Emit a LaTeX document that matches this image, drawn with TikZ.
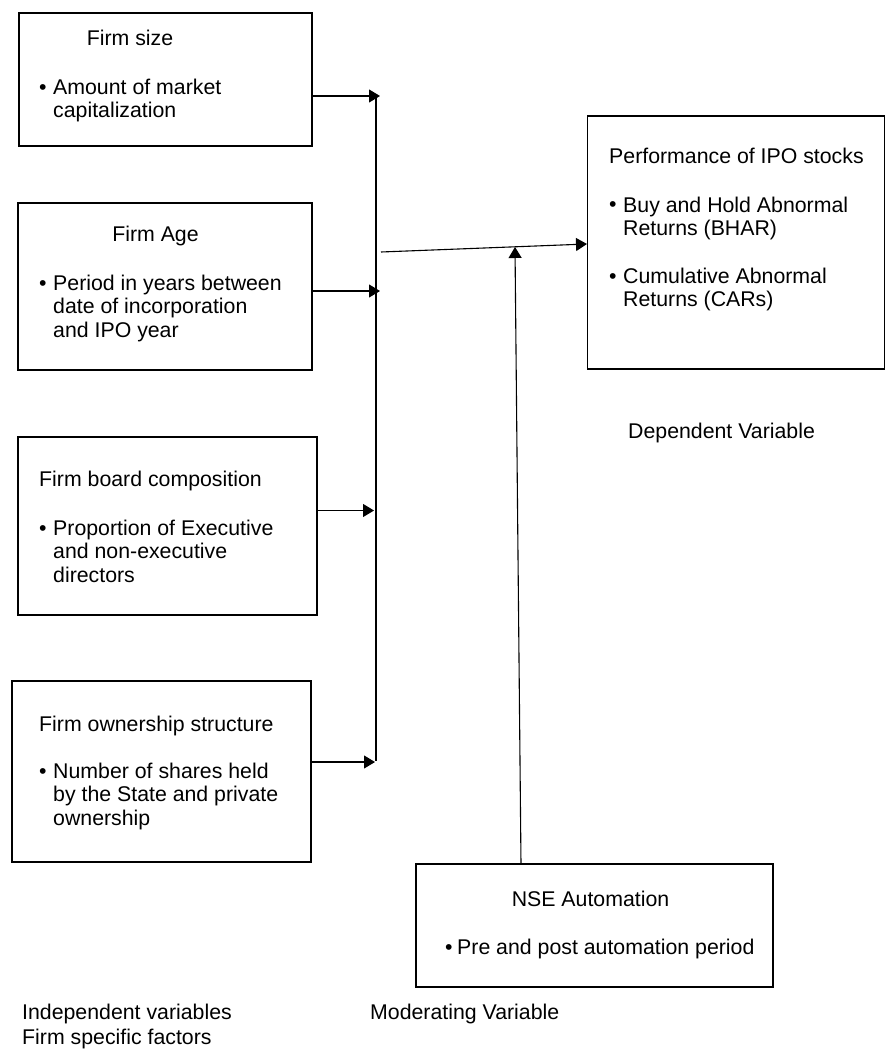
\documentclass[tikz,border=0pt]{standalone}
\usepackage{fontspec}
\setmainfont{Liberation Sans}
\usetikzlibrary{arrows.meta}
\newcommand{\fsz}{\fontsize{21.3}{23.5}\selectfont}
\begin{document}
\begin{tikzpicture}[x=1pt,y=-1pt,
  box/.style={draw=black, line width=1.2pt, inner sep=0pt, fill=none},
  txt/.style={inner sep=0pt, font=\fsz, align=left, text=black},
  conn/.style={draw=black, line width=1.1pt},
  arr/.style={conn, -{Triangle[length=11pt,width=13pt]}}]
\useasboundingbox (0,0) rectangle (886,1055);
\fill[white] (0,0) rectangle (886,1055);
% boxes
\node[box, minimum width=293pt, minimum height=133pt] (b1) at (165.5,79.5) {};
\node[box, minimum width=294pt, minimum height=167pt] (b2) at (165,286.5) {};
\node[box, minimum width=299pt, minimum height=178pt] (b3) at (167.5,526) {};
\node[box, minimum width=299pt, minimum height=181pt] (b4) at (161.5,771.5) {};
\node[box, minimum width=297pt, minimum height=253pt] (perf) at (736,242.5) {};
\node[box, minimum width=357pt, minimum height=123pt] (nse) at (594.5,925.5) {};
% box 1
\node[txt, anchor=base] (t1) at (130,45) {Firm size};
\node[txt, anchor=base west] (d1) at (39,94) {•};
\node[txt, anchor=north west] (l1) at (53,78.7) {Amount of market\\capitalization};
% box 2
\node[txt, anchor=base] (t2) at (155.5,241.7) {Firm Age};
\node[txt, anchor=base west] (d2) at (39,290) {•};
\node[txt, anchor=north west] (l2) at (53,274.7) {Period in years between\\date of incorporation\\and IPO year};
% box 3
\node[txt, anchor=base west] (t3) at (39,486.7) {Firm board composition};
\node[txt, anchor=base west] (d3) at (39,535) {•};
\node[txt, anchor=north west] (l3) at (53,519.7) {Proportion of Executive\\and non-executive\\directors};
% box 4
\node[txt, anchor=base west] (t4) at (39,731.7) {Firm ownership structure};
\node[txt, anchor=base west] (d4) at (39,778) {•};
\node[txt, anchor=north west] (l4) at (53,762.7) {Number of shares held\\by the State and private\\ownership};
% performance
\node[txt, anchor=base west] (tp) at (609,163) {Performance of IPO stocks};
\node[txt, anchor=base west] (dp1) at (609,211.7) {•};
\node[txt, anchor=north west] (lp1) at (623,196.4) {Buy and Hold Abnormal\\Returns (BHAR)};
\node[txt, anchor=base west] (dp2) at (609,283) {•};
\node[txt, anchor=north west] (lp2) at (623,267.7) {Cumulative Abnormal\\Returns (CARs)};
% NSE
\node[txt, anchor=base] (tn) at (590.5,906) {NSE Automation};
\node[txt, anchor=base west] (dn) at (445,954) {•};
\node[txt, anchor=base west] (ln) at (457,954) {Pre and post automation period};
% labels
\node[txt, anchor=base west] (dep) at (628,438) {Dependent Variable};
\node[txt, anchor=base west] (ind) at (22,1019.5) {Independent variables};
\node[txt, anchor=base west] (fsf) at (22,1044) {Firm specific factors};
\node[txt, anchor=base west] (mod) at (370,1019.5) {Moderating Variable};
% connectors
\coordinate (busTop) at (376,96);
\coordinate (busBot) at (376,761);
\coordinate (a1) at (380,96);
\coordinate (a2) at (380,291);
\coordinate (a3) at (374,510.5);
\coordinate (a4) at (375,762);
\coordinate (sStart) at (381,252);
\coordinate (sEnd) at (587,244);
\coordinate (mTip) at (515,247);
\coordinate (mBase) at (521,864);
\draw[conn] (busTop) -- (busBot);
\draw[arr] (b1.east |- a1) -- (a1);
\draw[arr] (b2.east |- a2) -- (a2);
\draw[arr] (b3.east |- a3) -- (a3);
\draw[arr] (b4.east |- a4) -- (a4);
\draw[arr] (sStart) -- (sEnd);
\draw[arr] (mBase) -- (mTip);
\end{tikzpicture}
\end{document}
